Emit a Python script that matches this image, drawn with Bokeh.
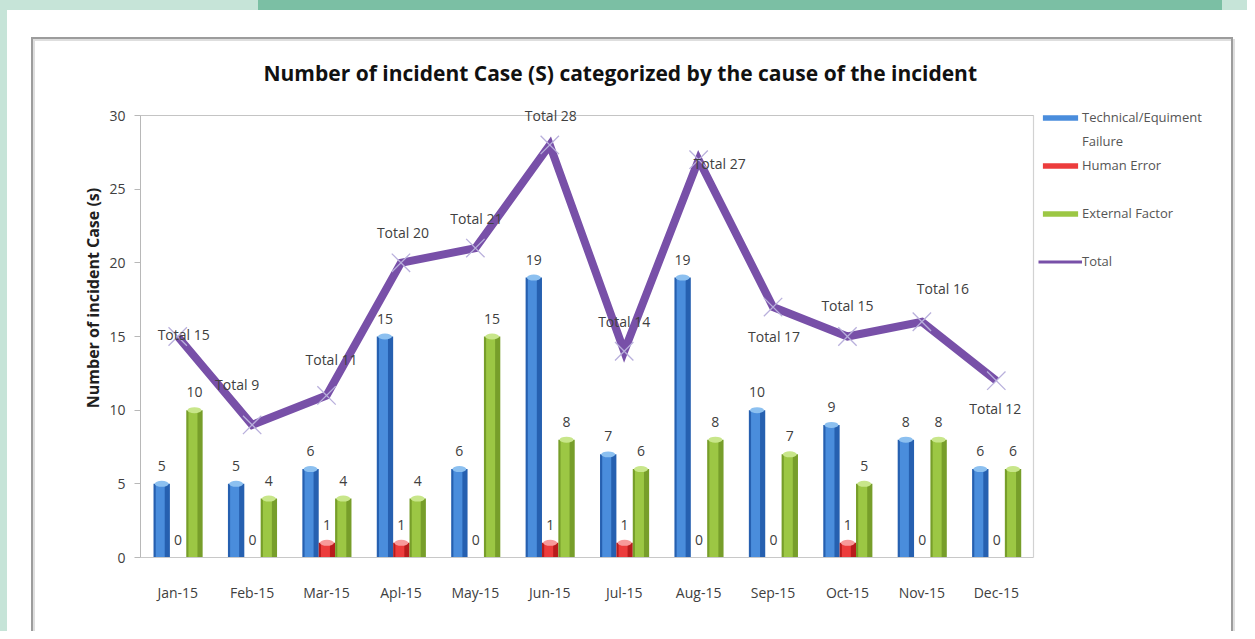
from bokeh.plotting import figure
from bokeh.models import (Range1d, FixedTicker, LabelSet, Label, BoxAnnotation,
                          ColumnDataSource, Legend, LegendItem, CDSView, BooleanFilter)
from bokeh.transform import dodge
from bokeh.core.properties import value
from bokeh.embed import file_html
from bokeh.resources import INLINE

# ---------------- data ----------------
months = ["Jan-15", "Feb-15", "Mar-15", "Apl-15", "May-15", "Jun-15",
          "Jul-15", "Aug-15", "Sep-15", "Oct-15", "Nov-15", "Dec-15"]
technical = [5, 5, 6, 15, 6, 19, 7, 19, 10, 9, 8, 6]
human = [0, 0, 1, 1, 0, 1, 1, 0, 0, 1, 0, 0]
external = [10, 4, 4, 4, 15, 8, 6, 8, 7, 5, 8, 6]
total = [15, 9, 11, 20, 21, 28, 14, 27, 17, 15, 16, 12]
y_ticks = [0, 5, 10, 15, 20, 25, 30]

title_text = "Number of incident Case (S) categorized by the cause of the incident"
y_title = "Number of incident Case (s)"

# label placement (pixels, y up) for the "Total" data labels
tot_dx = [6, -15, 5, 2, 1, 1, 0, 21, 1, 0, 21, -1]
tot_dy = [2, 40, 36, 30, 30, 29, 30, -4, -29, 31, 33, -28]

# ---------------- layout ----------------
W, H = 1247, 631
FL, FB = 140, 557        # frame left / bottom (value 0)
X12 = 1033               # pixel column of the right end of the category axis
Y30 = 115                # pixel row of the value 30
FT = 38                  # frame top (title and legend live inside the frame)
YMAX = 30
N = len(months)
PX_X = (X12 - FL) / N            # pixels per category
PX_Y = (FB - Y30) / YMAX         # pixels per unit
x_end = (W - FL) / PX_X
y_end = (FB - FT) / PX_Y
FONT = "Open Sans"
TXT = "#404040"

xc = [i + 0.5 for i in range(N)]          # category centres on the axis scale
src = ColumnDataSource(dict(
    xc=xc, month=months, technical=technical, human=human, external=external,
    total=total,
    t_lbl=[str(v) for v in technical], h_lbl=[str(v) for v in human],
    e_lbl=[str(v) for v in external], tot_lbl=["Total " + str(v) for v in total],
    tdx=tot_dx, tdy=tot_dy,
))

p = figure(width=W, height=H, x_range=Range1d(0, x_end), y_range=Range1d(0, y_end),
           output_backend="svg", toolbar_location=None,
           min_border_left=FL, min_border_right=0,
           min_border_top=FT, min_border_bottom=H - FB)
p.background_fill_color = None
p.border_fill_color = None
p.outline_line_color = None
p.xgrid.grid_line_color = None
p.ygrid.grid_line_color = None


# page decoration and chart frame (CSS background behind the transparent canvas)
def bar(color, x, y, w, h):
    return f"linear-gradient({color},{color}) {x}px {y}px / {w}px {h}px no-repeat"


p.styles = {"background": ", ".join([
    bar("#c6e4d8", 0, 0, 258, 10),
    bar("#7bbfa4", 258, 0, 964, 10),
    bar("#c6e4d8", 1222, 0, 40, 10),
    bar("#c6e4d8", 0, 0, 7, 700),
    bar("#9c9c9c", 31, 37, 1202, 2),
    bar("#9c9c9c", 31, 37, 2, 700),
    bar("#9c9c9c", 1231, 37, 2, 700),
    bar("#dedede", 33, 39, 1198, 2),
    bar("#dedede", 33, 39, 2, 700),
    bar("#dedede", 1233, 39, 2, 700),
    "white",
])}

# axes
p.yaxis.ticker = FixedTicker(ticks=y_ticks)
p.yaxis.bounds = (0, YMAX)
p.yaxis.axis_line_color = "#b8b8b8"
p.yaxis.major_tick_line_color = "#b8b8b8"
p.yaxis.major_tick_out = 6
p.yaxis.major_tick_in = 0
p.yaxis.minor_tick_line_color = None
p.yaxis.major_label_standoff = 9
p.yaxis.major_label_text_font = FONT
p.yaxis.major_label_text_font_size = "14px"
p.yaxis.major_label_text_color = TXT
p.yaxis.axis_label = y_title
p.yaxis.axis_label_text_font = FONT
p.yaxis.axis_label_text_font_style = "bold"
p.yaxis.axis_label_text_font_size = "16px"
p.yaxis.axis_label_text_color = "#202020"
p.yaxis.axis_label_standoff = 2

p.xaxis.ticker = FixedTicker(ticks=xc)
p.xaxis.major_label_overrides = {x: m for x, m in zip(xc, months)}
p.xaxis.bounds = (0, N)
p.xaxis.axis_line_color = "#c8c8c8"
p.xaxis.major_tick_line_color = None
p.xaxis.minor_tick_line_color = None
p.xaxis.major_label_standoff = 19
p.xaxis.major_label_text_font = FONT
p.xaxis.major_label_text_font_size = "14px"
p.xaxis.major_label_text_color = TXT

# plot-area border: top line at 30 and right edge
p.add_layout(BoxAnnotation(left=0, right=N, bottom=YMAX, top=YMAX,
                           fill_alpha=0, line_color="#3a3a3a", line_width=1.2))
p.add_layout(BoxAnnotation(left=N, right=N, bottom=0, top=YMAX,
                           fill_alpha=0, line_color="#6a6a6a", line_width=1.2))

# title
p.add_layout(Label(x=(263 - FL) / PX_X, y=(FB - 72) / PX_Y, text=title_text,
                   text_font=FONT, text_font_style="bold", text_font_size="21px",
                   text_color="#111111", text_align="left", text_baseline="middle"))

# bars (cylinder-like: dark body, lighter stripe, light top cap)
BW = 0.22
bars = [
    ("technical", -0.215, "#2660b0", "#4a8ddc", "#8cc0f0"),
    ("human", 0.005, "#b81c1c", "#ec3c3c", "#f79a9a"),
    ("external", 0.225, "#779e2a", "#9cc744", "#c8e68a"),
]
legend_r = {}
for col, off, dark, light, cap in bars:
    p.vbar(x=dodge("xc", off), top=col, width=BW, source=src,
           fill_color=dark, line_color=None)
    legend_r[col] = p.vbar(x=dodge("xc", off - 0.02), top=col, width=BW * 0.55,
                           source=src, fill_color=light, line_color=None)
    view = CDSView(filter=BooleanFilter([v > 0 for v in src.data[col]]))
    p.ellipse(x=dodge("xc", off), y=col, width=BW * 0.85,
              height=6, height_units="screen", source=src, view=view,
              fill_color=cap, line_color=None)

# total line (a thin copy underneath serves as the legend key)
total_key = p.line(x="xc", y="total", source=src, line_color="#7850a8", line_width=3)
p.line(x="xc", y="total", source=src, line_color="#7850a8", line_width=8,
       line_join="miter")
p.scatter(x="xc", y="total", source=src, marker="x", size=26,
          line_color="#b9b0dc", line_width=1.3)

# data labels
lbl_kw = dict(text_font=value(FONT), text_font_size=value("14px"),
              text_color=value(TXT), text_align=value("center"),
              text_baseline=value("middle"))
for col, off, *_ in bars:
    lblcol = {"technical": "t_lbl", "human": "h_lbl", "external": "e_lbl"}[col]
    p.add_layout(LabelSet(x=dodge("xc", off), y=col, text=lblcol,
                          source=src, y_offset=18, **lbl_kw))
p.add_layout(LabelSet(x="xc", y="total", text="tot_lbl", source=src,
                      x_offset="tdx", y_offset="tdy", **lbl_kw))

# legend (right of the plot area, inside the frame)
blank = p.scatter(x=[], y=[], alpha=0)
legend = Legend(items=[
    LegendItem(label="Technical/Equiment", renderers=[legend_r["technical"]]),
    LegendItem(label="Failure", renderers=[blank]),
    LegendItem(label="Human Error", renderers=[legend_r["human"]]),
    LegendItem(label=" ", renderers=[blank]),
    LegendItem(label="External Factor", renderers=[legend_r["external"]]),
    LegendItem(label=" ", renderers=[blank]),
    LegendItem(label="Total", renderers=[total_key]),
])
ROW, GAP = 20, 4
legend.glyph_width = 44
legend.glyph_height = 7
legend.label_height = ROW
legend.spacing = GAP
legend.padding = 0
legend.margin = 0
legend.label_standoff = 0
legend.border_line_color = None
legend.background_fill_alpha = 0
legend.label_text_font = FONT
legend.label_text_font_size = "13px"
legend.label_text_color = "#555555"
legend_h = 7 * ROW + 6 * GAP
legend.location = (1038 - FL, FB - 107 - legend_h)
p.add_layout(legend)

open("out.html", "w").write(file_html(p, INLINE))
